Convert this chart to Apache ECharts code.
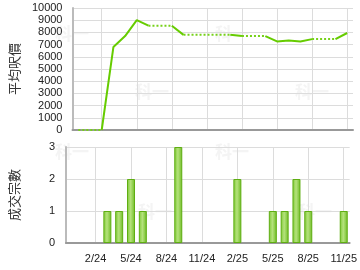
<!DOCTYPE html>
<html><head><meta charset="utf-8">
<script src="https://cdn.jsdelivr.net/npm/echarts@6/dist/echarts.min.js"></script>
<style>html,body{margin:0;padding:0;background:#fff}#c{width:360px;height:270px}</style>
</head><body><div id="c"></div>
<script>
const months = ['12/23','1/24','2/24','3/24','4/24','5/24','6/24','7/24','8/24','9/24','10/24','11/24','12/24','1/25','2/25','3/25','4/25','5/25','6/25','7/25','8/25','9/25','10/25','11/25'];
const avgPrice = [0,0,0,6800,7700,9000,8550,8550,8550,7800,7800,7800,7800,7800,7700,7700,7700,7260,7330,7250,7450,7450,7450,7950];
const volume = [0,0,0,1,1,2,1,0,0,3,0,0,0,0,2,0,0,1,1,2,1,0,0,1];
const priceTicks = [0,1000,2000,3000,4000,5000,6000,7000,8000,9000,10000];
const volumeTicks = [0,1,2,3];
const priceName = '平均呎價';
const volumeName = '成交宗數';

const GREEN = '#66cc00';
// build line runs: segment i-1 -> i is solid when month i has transactions, dotted otherwise
const runs = [];
for (let i = 1; i < months.length; i++) {
  const solid = volume[i] > 0;
  const last = runs[runs.length - 1];
  if (last && last.solid === solid && last.end === i - 1) { last.end = i; }
  else runs.push({solid: solid, start: i - 1, end: i});
}
const lineSeries = runs.map(r => ({
  type: 'line', xAxisIndex: 0, yAxisIndex: 0, symbol: 'none', silent: true,
  data: avgPrice.map((v, i) => (i >= r.start && i <= r.end) ? v : null),
  lineStyle: r.solid ? {color: GREEN, width: 2} : {color: '#77d11a', width: 2, type: [2, 2]},
  z: r.solid ? 3 : 2
}));

const labelIdx = (idx) => (idx - 2) % 3 === 0;
const wm = (x, y) => ({type: 'text', left: x, top: y, z: 0, silent: true,
  style: {text: '科一', fill: '#f4f4f4', font: 'bold 17px "Noto Sans CJK TC"'}});
const numFmt = (v) => String(v);

const chart = echarts.init(document.getElementById('c'), null, {renderer: 'canvas'});
chart.setOption({
  animation: false,
  graphic: [wm(55, 25), wm(135, 83), wm(215, 25), wm(295, 83), wm(55, 143), wm(138, 203), wm(215, 143), wm(298, 203)],
  grid: [
    {left: 65, right: 7, top: 8, height: 122},
    {left: 65, right: 7, top: 147, height: 96}
  ],
  xAxis: [0, 1].map(g => ({
    type: 'category', gridIndex: g, data: months, boundaryGap: true,
    axisLine: {lineStyle: {color: '#999', width: 2}},
    axisTick: {show: false},
    axisLabel: {show: g === 1, interval: labelIdx, color: '#222', fontSize: 11, fontFamily: 'Arial, "Liberation Sans"', margin: 10},
    splitLine: {show: true, interval: labelIdx, alignWithLabel: true, lineStyle: {color: '#dcdcdc', width: 1}}
  })),
  yAxis: [
    {type: 'value', gridIndex: 0, min: priceTicks[0], max: priceTicks[priceTicks.length - 1], interval: 1000,
     name: priceName, nameLocation: 'middle', nameGap: 45, nameRotate: 90,
     nameTextStyle: {fontSize: 13, color: '#333', fontFamily: '"Noto Sans CJK TC"'},
     axisLine: {show: true, lineStyle: {color: '#bbb', width: 2}}, axisTick: {show: false},
     axisLabel: {color: '#222', fontSize: 11, fontFamily: 'Arial, "Liberation Sans"', margin: 10, formatter: numFmt},
     splitLine: {lineStyle: {color: '#dcdcdc'}}},
    {type: 'value', gridIndex: 1, min: volumeTicks[0], max: volumeTicks[volumeTicks.length - 1], interval: 1,
     name: volumeName, nameLocation: 'middle', nameGap: 45, nameRotate: 90,
     nameTextStyle: {fontSize: 13, color: '#333', fontFamily: '"Noto Sans CJK TC"'},
     axisLine: {show: true, lineStyle: {color: '#bbb', width: 2}}, axisTick: {show: false},
     axisLabel: {color: '#222', fontSize: 11, fontFamily: 'Arial, "Liberation Sans"', margin: 11, formatter: numFmt},
     splitLine: {lineStyle: {color: '#dcdcdc'}}}
  ],
  series: lineSeries.concat([{
    type: 'bar', xAxisIndex: 1, yAxisIndex: 1, barWidth: 8, silent: true,
    data: volume.map(v => v === 0 ? null : v),
    itemStyle: {
      borderColor: '#5fae12', borderWidth: 1,
      color: new echarts.graphic.LinearGradient(0, 0, 1, 0, [
        {offset: 0, color: '#7cc832'}, {offset: 0.45, color: '#b5e27c'}, {offset: 1, color: '#6dbb22'}
      ])
    }
  }])
});
</script></body></html>
